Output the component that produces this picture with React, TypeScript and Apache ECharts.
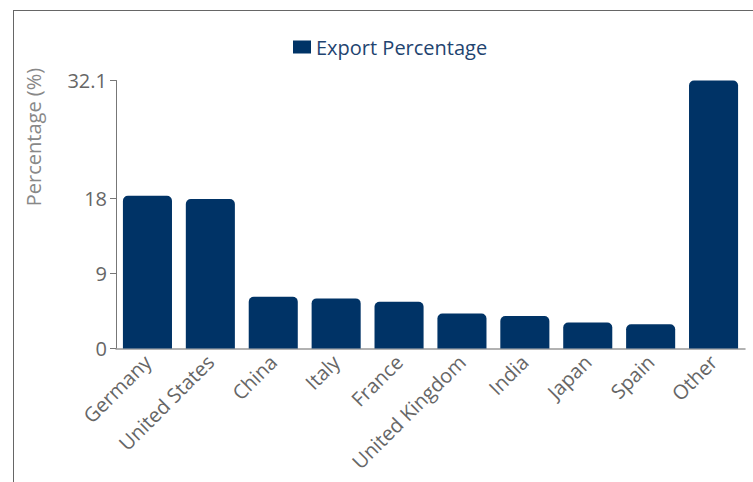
import React, { useEffect, useRef } from "react";
import * as echarts from "echarts";

const categories = ["Germany", "United States", "China", "Italy", "France", "United Kingdom", "India", "Japan", "Spain", "Other"];
const exportPercentage = [18.3, 17.9, 6.2, 6.0, 5.6, 4.2, 3.9, 3.1, 2.9, 32.1];
const yTicks = [0, 9, 18, 32.1];
const seriesName = "Export Percentage";
const yAxisTitle = "Percentage (%)";

const FONT = "'Open Sans', 'Noto Sans', sans-serif";

export default function App() {
  const ref = useRef<HTMLDivElement>(null);
  useEffect(() => {
    if (!ref.current) return;
    const chart = echarts.init(ref.current, null, { renderer: "svg" });
    chart.setOption({
      animation: false,
      textStyle: { fontFamily: FONT },
      legend: {
        data: [seriesName],
        left: 288,
        top: 32,
        icon: "rect",
        itemWidth: 18,
        itemHeight: 13,
        itemGap: 6,
        textStyle: { fontSize: 20, color: "#1f4470", fontFamily: FONT },
      },
      grid: { left: 116, right: 8, top: 80.5, bottom: 133.5, containLabel: false },
      xAxis: {
        type: "category",
        data: categories,
        axisLine: { lineStyle: { color: "#999", width: 1.5 } },
        axisTick: { alignWithLabel: true, length: 7, lineStyle: { color: "#777" } },
        axisLabel: { rotate: 45, fontSize: 20, color: "#666", margin: 10, interval: 0, fontFamily: FONT },
      },
      yAxis: {
        type: "value",
        min: 0,
        max: 32.1,
        axisLine: { show: true, lineStyle: { color: "#777" } },
        axisTick: { show: true, length: 6, customValues: yTicks, lineStyle: { color: "#777" } },
        axisLabel: { customValues: yTicks, fontSize: 20, color: "#666", margin: 9, fontFamily: FONT },
        splitLine: { show: false },
      },
      graphic: [
        {
          type: "text",
          x: 33,
          y: 137,
          rotation: Math.PI / 2,
          style: {
            text: yAxisTitle,
            fontSize: 20,
            fill: "#888",
            fontFamily: FONT,
            align: "center",
            verticalAlign: "middle",
          },
        },
      ],
      series: [
        {
          name: seriesName,
          type: "bar",
          data: exportPercentage,
          barCategoryGap: "22%",
          itemStyle: { color: "#003366", borderRadius: [5, 5, 0, 0] },
        },
      ],
    });
    return () => chart.dispose();
  }, []);
  return (
    <div style={{ position: "fixed", left: 0, top: 0, width: 753, height: 482, overflow: "hidden", background: "#fff" }}>
      <div style={{ position: "absolute", left: 13, top: 10, width: 900, height: 700, border: "1px solid #666" }} />
      <div ref={ref} style={{ position: "absolute", left: 0, top: 0, width: 753, height: 482 }} />
    </div>
  );
}
